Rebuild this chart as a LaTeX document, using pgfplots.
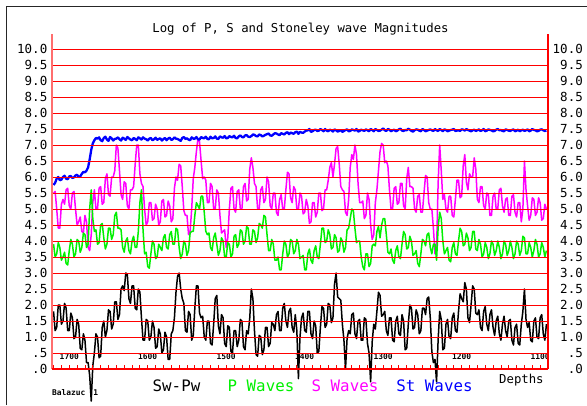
\documentclass[border=0pt]{standalone}
\usepackage{fontspec}
\usepackage{pgfplots}
\usepackage{pgfplotstable}
\pgfplotsset{compat=1.18}
\newfontfamily\mono{DejaVu Sans Mono}
\definecolor{pgreen}{RGB}{0,240,0}
\definecolor{smag}{RGB}{255,0,255}
\definecolor{stblue}{RGB}{0,0,255}
\definecolor{lred}{RGB}{255,110,110}
\definecolor{gridred}{RGB}{255,0,0}

\pgfplotstableread{
d st s p sw
1720 5.75 5.5 3.9 1.8
1718 5.82 5.55 3.5 1.2
1716 5.95 5.0 3.6 1.3
1714 6.0 4.4 3.95 2.0
1712 5.9 4.4 3.8 2.0
1710 5.92 5.15 3.4 1.4
1708 6.0 5.3 3.5 1.5
1706 6.04 5.15 3.65 2.05
1704 5.95 5.6 3.3 1.9
1702 5.93 5.65 3.25 1.2
1700 6.02 5.1 3.7 1.2
1698 6.03 5.0 4.05 1.75
1696 5.97 5.5 3.9 1.6
1694 5.99 5.55 3.5 0.95
1692 6.05 5.0 3.6 1.0
1690 6.07 4.5 4.05 1.55
1688 6.0 4.6 4.0 1.4
1686 6.02 4.75 3.65 0.65
1684 6.1 4.3 3.8 0.6
1682 6.16 4.25 4.25 1.1
1680 6.15 4.8 4.2 0.9
1678 6.2 4.6 3.8 0.2
1676 6.3 3.8 3.9 0.2
1674 6.55 3.7 5.0 -0.2
1672 6.85 4.2 5.6 -1.0
1670 7.05 5.2 4.7 0.1
1668 7.15 5.6 4.3 0.5
1666 7.22 5.0 4.35 1.1
1664 7.2 5.0 3.9 1.0
1662 7.24 5.65 3.95 0.35
1660 7.15 5.7 4.5 0.4
1658 7.12 5.15 4.55 1.3
1656 7.22 5.2 4.1 1.5
1654 7.26 5.95 3.75 1.0
1652 7.17 6.1 3.9 1.2
1650 7.13 5.45 4.4 1.85
1648 7.25 5.4 4.4 1.8
1646 7.21 6.0 4.05 1.25
1644 7.14 6.0 4.2 1.4
1642 7.19 6.2 4.8 2.1
1640 7.2 7.0 4.9 2.1
1638 7.24 6.9 4.4 1.55
1636 7.18 6.2 4.4 1.7
1634 7.14 5.45 4.35 2.5
1632 7.23 5.3 3.8 2.6
1630 7.2 5.85 3.65 2.45
1628 7.16 5.8 4.0 3.0
1626 7.25 5.1 4.1 2.95
1624 7.21 5.0 3.7 2.2
1622 7.17 5.6 3.6 2.05
1620 7.15 5.6 4.0 2.6
1618 7.22 5.7 4.15 2.6
1616 7.19 6.4 3.8 1.9
1614 7.15 7.0 3.8 1.85
1612 7.24 7.0 4.3 2.5
1610 7.21 6.1 5.2 2.4
1608 7.17 5.8 5.6 1.6
1606 7.24 5.7 4.35 0.9
1604 7.2 5.0 3.6 0.9
1602 7.18 4.5 3.65 1.55
1600 7.14 4.6 3.2 1.5
1598 7.2 5.2 3.15 0.9
1596 7.22 5.2 3.6 1.0
1594 7.15 4.65 4.0 1.5
1592 7.18 4.7 3.9 1.3
1590 7.23 5.15 3.45 0.65
1588 7.16 5.0 3.5 0.7
1586 7.19 4.5 3.9 1.25
1584 7.21 4.6 3.8 1.1
1582 7.14 5.25 3.7 0.5
1580 7.19 5.3 4.1 0.6
1578 7.22 4.75 4.2 1.15
1576 7.15 4.8 3.8 1.0
1574 7.2 5.25 3.75 0.3
1572 7.23 5.1 4.2 0.3
1570 7.16 4.6 4.3 1.1
1568 7.18 4.7 3.9 1.2
1566 7.24 5.65 3.9 1.6
1564 7.2 6.0 4.4 2.4
1562 7.19 5.9 4.35 2.9
1560 7.16 6.4 3.8 3.0
1558 7.13 6.35 3.45 2.5
1556 7.22 5.7 3.6 2.2
1554 7.25 4.95 4.0 2.05
1552 7.19 4.8 3.9 1.2
1550 7.21 4.8 3.55 1.15
1548 7.17 4.2 3.7 1.8
1546 7.15 4.3 4.25 1.7
1544 7.24 5.0 4.3 0.9
1542 7.2 5.95 4.3 1.05
1540 7.2 6.3 4.8 1.9
1538 7.25 6.8 5.2 2.6
1536 7.18 7.2 5.1 2.6
1534 7.17 7.1 5.0 1.75
1532 7.25 6.5 5.4 1.6
1530 7.22 5.95 5.4 1.65
1528 7.21 6.0 4.9 1.0
1526 7.26 5.9 4.3 0.9
1524 7.19 5.2 4.2 1.5
1522 7.18 5.2 4.25 1.5
1520 7.26 5.8 3.8 0.8
1518 7.21 5.7 3.7 0.75
1516 7.22 5.0 4.1 1.4
1514 7.27 5.0 4.25 2.2
1512 7.2 5.6 3.9 2.3
1510 7.19 5.5 3.55 1.35
1508 7.27 4.8 3.7 1.1
1506 7.24 4.25 4.1 1.7
1504 7.23 4.3 4.0 1.6
1502 7.28 4.35 3.5 0.8
1500 7.21 3.8 3.5 0.7
1498 7.22 4.1 3.95 1.35
1496 7.28 5.0 3.9 1.3
1494 7.25 5.65 3.5 0.55
1492 7.24 5.7 3.6 0.5
1490 7.29 5.0 4.15 1.2
1488 7.22 4.9 4.2 1.2
1486 7.21 5.55 3.8 0.7
1484 7.27 5.6 3.9 0.9
1482 7.3 5.0 4.35 1.55
1480 7.25 5.0 4.3 1.5
1478 7.24 5.7 3.9 0.7
1476 7.3 5.8 4.0 0.6
1474 7.31 5.25 4.45 1.2
1472 7.26 5.3 4.4 1.1
1470 7.25 6.25 3.9 1.6
1468 7.28 6.6 3.9 2.5
1466 7.33 6.3 4.35 2.2
1464 7.32 5.8 4.3 1.2
1462 7.28 5.7 3.95 0.45
1460 7.27 5.0 4.1 0.4
1458 7.33 5.0 4.55 1.05
1456 7.31 5.6 4.5 1.0
1454 7.27 5.7 4.4 0.45
1452 7.29 5.2 4.8 0.6
1450 7.32 5.3 4.75 1.3
1448 7.34 6.0 4.2 1.3
1446 7.36 5.85 3.7 0.7
1444 7.3 5.1 3.7 0.8
1442 7.29 5.0 4.05 1.45
1440 7.33 5.5 3.9 1.4
1438 7.37 5.5 3.4 1.2
1436 7.36 4.9 3.4 1.7
1434 7.33 4.8 3.5 1.8
1432 7.31 5.3 3.1 1.2
1430 7.37 5.45 3.1 1.2
1428 7.35 5.0 3.6 1.9
1426 7.33 5.0 4.0 2.05
1424 7.38 5.6 3.9 1.5
1422 7.4 6.15 3.5 1.3
1420 7.34 6.1 3.6 1.8
1418 7.39 5.35 4.05 1.9
1416 7.37 5.2 4.0 1.3
1414 7.35 5.7 3.6 1.15
1412 7.4 5.6 3.7 1.7
1410 7.42 5.0 4.05 1.2
1408 7.35 5.0 3.9 -0.3
1406 7.41 5.5 3.45 1.0
1404 7.39 5.4 3.5 1.6
1402 7.38 4.85 3.55 1.75
1400 7.42 4.9 3.1 1.2
1398 7.45 5.3 3.1 1.15
1396 7.46 5.1 3.6 1.8
1394 7.5 4.55 3.75 1.8
1392 7.41 4.6 3.4 1.1
1390 7.43 5.2 3.3 0.95
1388 7.47 5.2 3.7 1.5
1386 7.48 4.75 3.85 1.35
1384 7.44 4.9 3.5 0.5
1382 7.45 5.5 3.45 0.55
1380 7.5 5.5 3.9 1.3
1378 7.47 4.95 4.4 1.95
1376 7.43 5.0 4.4 1.9
1374 7.5 5.6 3.95 1.3
1372 7.45 5.6 4.0 1.4
1370 7.43 5.9 4.35 2.05
1368 7.48 6.3 4.2 2.0
1366 7.46 6.45 3.75 1.45
1364 7.42 6.0 3.8 1.6
1362 7.49 6.4 4.2 2.65
1360 7.46 6.9 4.1 3.0
1358 7.42 6.95 3.65 2.25
1356 7.44 6.4 3.7 2.2
1354 7.47 5.7 4.1 2.15
1352 7.41 5.6 4.0 1.4
1350 7.44 5.55 3.65 0.9
1348 7.47 4.9 3.8 0.0
1346 7.49 4.8 4.35 0.95
1344 7.43 5.3 4.4 1.2
1342 7.44 6.3 4.7 1.1
1340 7.49 6.7 5.0 1.7
1338 7.47 6.55 4.95 1.75
1336 7.45 7.0 4.4 1.1
1334 7.5 6.7 3.95 0.95
1332 7.42 5.8 4.0 1.5
1330 7.44 5.2 4.0 1.55
1328 7.48 5.2 3.5 0.9
1326 7.46 5.25 3.2 0.9
1324 7.44 4.7 3.1 1.6
1322 7.49 4.8 3.6 1.55
1320 7.46 5.5 3.6 0.8
1318 7.43 5.3 3.2 0.5
1316 7.5 4.5 3.3 -0.4
1314 7.47 4.05 3.85 0.85
1312 7.43 4.2 3.9 1.4
1310 7.5 5.2 3.85 1.25
1308 7.47 5.6 4.3 1.8
1306 7.44 6.2 4.45 2.4
1304 7.45 6.8 4.1 2.3
1302 7.48 7.05 4.5 1.65
1300 7.52 7.0 4.7 1.7
1298 7.46 6.45 4.7 1.8
1296 7.44 6.5 4.2 1.2
1294 7.5 6.35 3.65 1.05
1292 7.48 5.6 3.6 1.6
1290 7.43 5.0 3.75 1.6
1288 7.46 5.0 3.4 0.9
1286 7.48 5.65 3.3 0.85
1284 7.43 5.7 3.7 1.5
1282 7.45 5.15 3.85 1.65
1280 7.49 5.2 3.5 1.1
1278 7.51 5.8 3.45 1.05
1276 7.45 5.8 3.9 1.7
1274 7.44 5.1 4.3 1.5
1272 7.47 5.0 4.2 0.6
1270 7.46 5.95 3.75 0.65
1268 7.51 6.3 3.8 1.4
1266 7.48 5.7 4.15 2.0
1264 7.44 5.7 4.0 1.9
1262 7.42 5.65 3.55 1.25
1260 7.46 5.0 3.6 1.3
1258 7.49 4.9 3.7 1.85
1256 7.48 5.4 3.3 1.7
1254 7.45 5.45 3.2 1.1
1252 7.43 4.9 3.6 1.2
1250 7.5 4.9 4.05 1.9
1248 7.47 5.5 4.0 1.9
1246 7.43 6.05 3.85 1.7
1244 7.45 6.0 4.2 2.2
1242 7.47 5.2 4.25 2.25
1240 7.49 5.0 3.8 1.6
1238 7.46 5.0 3.6 0.55
1236 7.44 4.4 3.9 0.2
1234 7.5 3.6 3.9 0.3
1232 7.46 3.7 3.4 -0.4
1230 7.44 5.8 4.4 0.9
1228 7.5 7.0 4.9 1.8
1226 7.47 6.2 4.7 1.55
1224 7.43 5.3 4.0 0.6
1222 7.49 5.45 3.6 0.65
1220 7.47 5.0 3.7 1.4
1218 7.43 4.9 3.8 1.55
1216 7.45 5.4 3.4 1.0
1214 7.47 5.4 3.35 0.95
1212 7.48 4.8 3.8 1.6
1210 7.5 4.75 3.95 1.75
1208 7.44 5.3 3.6 1.2
1206 7.45 5.9 3.55 1.15
1204 7.46 5.9 4.0 1.8
1202 7.44 5.35 4.4 2.35
1200 7.49 5.4 4.3 2.2
1198 7.48 6.35 3.85 2.1
1196 7.45 6.7 3.9 2.7
1194 7.5 5.85 4.25 2.5
1192 7.47 5.6 4.1 1.6
1190 7.45 6.1 3.7 1.45
1188 7.43 6.0 3.8 2.0
1186 7.46 6.0 4.3 2.6
1184 7.48 6.6 4.3 2.5
1182 7.44 6.25 3.75 1.75
1180 7.46 5.3 3.7 1.7
1178 7.49 5.2 4.05 1.85
1176 7.44 5.7 3.9 1.3
1174 7.46 5.7 3.5 1.2
1172 7.5 5.1 3.6 1.8
1170 7.43 5.0 3.95 1.95
1168 7.45 5.5 3.8 1.4
1166 7.49 5.45 3.45 1.2
1164 7.47 4.8 3.6 1.7
1162 7.46 4.8 4.0 1.85
1160 7.43 5.4 3.9 1.3
1158 7.44 5.5 3.55 1.05
1156 7.48 5.0 3.7 1.5
1154 7.5 5.0 4.0 1.65
1152 7.46 5.6 3.8 1.1
1150 7.47 5.65 3.45 0.9
1148 7.44 5.1 3.6 1.4
1146 7.43 4.9 4.0 1.65
1144 7.49 5.3 3.9 1.2
1142 7.47 5.35 3.55 1.0
1140 7.45 4.8 3.7 1.5
1138 7.44 4.8 4.0 1.55
1136 7.47 5.4 3.8 0.9
1134 7.49 5.45 3.45 0.75
1132 7.43 4.9 3.6 1.3
1130 7.45 4.75 4.0 1.4
1128 7.48 5.2 3.9 0.8
1126 7.43 5.2 3.55 0.75
1124 7.46 4.6 3.7 1.4
1122 7.48 5.0 4.15 1.8
1120 7.44 6.5 4.1 2.5
1118 7.46 5.6 3.6 1.55
1116 7.49 5.1 3.6 1.3
1114 7.43 4.65 3.95 1.45
1112 7.45 4.8 3.8 0.9
1110 7.5 5.35 3.5 0.85
1108 7.47 5.3 3.7 1.5
1106 7.46 4.8 4.05 1.6
1104 7.43 4.9 3.9 1.0
1102 7.44 5.35 3.5 0.95
1100 7.48 5.2 3.6 1.6
1098 7.49 4.65 3.95 1.7
1096 7.46 4.7 3.8 1.1
1094 7.44 5.15 3.5 0.9
1092 7.45 5.0 3.7 1.4
}\data

\begin{document}
\begin{tikzpicture}
\useasboundingbox (0,0) rectangle (587pt,-405pt);
\fill[white] (0,0) rectangle (587pt,-405pt);
\draw[line width=1.3pt, black!85] (6.5pt,-405pt) -- (6.5pt,-6.5pt) -- (587pt,-6.5pt);
\begin{axis}[
  at={(52pt,-369pt)}, anchor=south west, scale only axis,
  width=496pt, height=335pt,
  xmin=1090, xmax=1722, x dir=reverse,
  ymin=0, ymax=10.47,
  clip=false, axis on top,
  axis line style={draw=none},
  ytick=\empty,
  xtick={1100,1200,1300,1400,1500,1600,1700},
  minor xtick={1090,1100,...,1720},
  xticklabels={},
  xtick pos=left, tick align=inside,
  major tick length=4pt, minor tick length=4pt,
  xtick style={red, line width=0.8pt},
]
\node[font=\mono\bfseries\fontsize{7.9}{9}\selectfont, anchor=base] at (axis cs:1700,0.30) {1700};
\node[font=\mono\bfseries\fontsize{7.9}{9}\selectfont, anchor=base] at (axis cs:1600,0.30) {1600};
\node[font=\mono\bfseries\fontsize{7.9}{9}\selectfont, anchor=base] at (axis cs:1500,0.30) {1500};
\node[font=\mono\bfseries\fontsize{7.9}{9}\selectfont, anchor=base] at (axis cs:1400,0.30) {1400};
\node[font=\mono\bfseries\fontsize{7.9}{9}\selectfont, anchor=base] at (axis cs:1300,0.30) {1300};
\node[font=\mono\bfseries\fontsize{7.9}{9}\selectfont, anchor=base] at (axis cs:1200,0.30) {1200};
\node[font=\mono\bfseries\fontsize{7.9}{9}\selectfont, anchor=base] at (axis cs:1100,0.30) {1100};
\addplot[smag, line width=1.5pt, line join=round] table[x=d,y=s]{\data};
\addplot[pgreen, line width=1.5pt, line join=round] table[x=d,y=p]{\data};
\addplot[stblue, line width=2.3pt, line join=round] table[x=d,y=st]{\data};
\addplot[black, line width=1.5pt, line join=round] table[x=d,y=sw]{\data};
\end{axis}
\foreach \v in {0.5,1,...,10}{
  \draw[gridred, line width=1.6pt] (52pt,{(-369.5+32*\v)*1pt}) -- (548pt,{(-369.5+32*\v)*1pt});
}
\draw[lred, line width=1.6pt] (52pt,-369pt) -- (52pt,-34pt);
\draw[red, line width=1.2pt] (548pt,-369pt) -- (548pt,-34pt);
\draw[red, line width=2pt] (52pt,-369pt) -- (548pt,-369pt);
\node[font=\mono\fontsize{12.3}{14}\selectfont] at (300.5pt,-29pt) {Log of P, S and Stoneley wave Magnitudes};
\foreach \v/\l in {0/.0,0.5/.5,1/1.0,1.5/1.5,2/2.0,2.5/2.5,3/3.0,3.5/3.5,4/4.0,4.5/4.5,5/5.0,5.5/5.5,6/6.0,6.5/6.5,7/7.0,7.5/7.5,8/8.0,8.5/8.5,9/9.0,9.5/9.5,10/10.0}{
  \node[font=\mono\fontsize{12.5}{14}\selectfont, anchor=east, inner sep=0pt] at (47.5pt,{(-369+32*\v)*1pt}) {\l};
  \node[font=\mono\fontsize{12.5}{14}\selectfont, anchor=east, inner sep=0pt] at (583pt,{(-369+32*\v)*1pt}) {\l};
}
\node[font=\mono\fontsize{15.8}{18}\selectfont] at (176.5pt,-386pt) {Sw-Pw};
\node[font=\mono\fontsize{15.8}{18}\selectfont, text=pgreen] at (261pt,-386pt) {P Waves};
\node[font=\mono\fontsize{15.8}{18}\selectfont, text=smag] at (345pt,-386pt) {S Waves};
\node[font=\mono\fontsize{15.8}{18}\selectfont, text=stblue] at (434.5pt,-386pt) {St Waves};
\node[font=\mono\fontsize{12.3}{14}\selectfont, anchor=base west, inner sep=0pt] at (499pt,-383.5pt) {Depths};
\node[font=\mono\bfseries\fontsize{7.9}{9}\selectfont, anchor=base west, inner sep=0pt] at (52pt,-395pt) {Balazuc\hspace{8pt}1};
\end{tikzpicture}
\end{document}
